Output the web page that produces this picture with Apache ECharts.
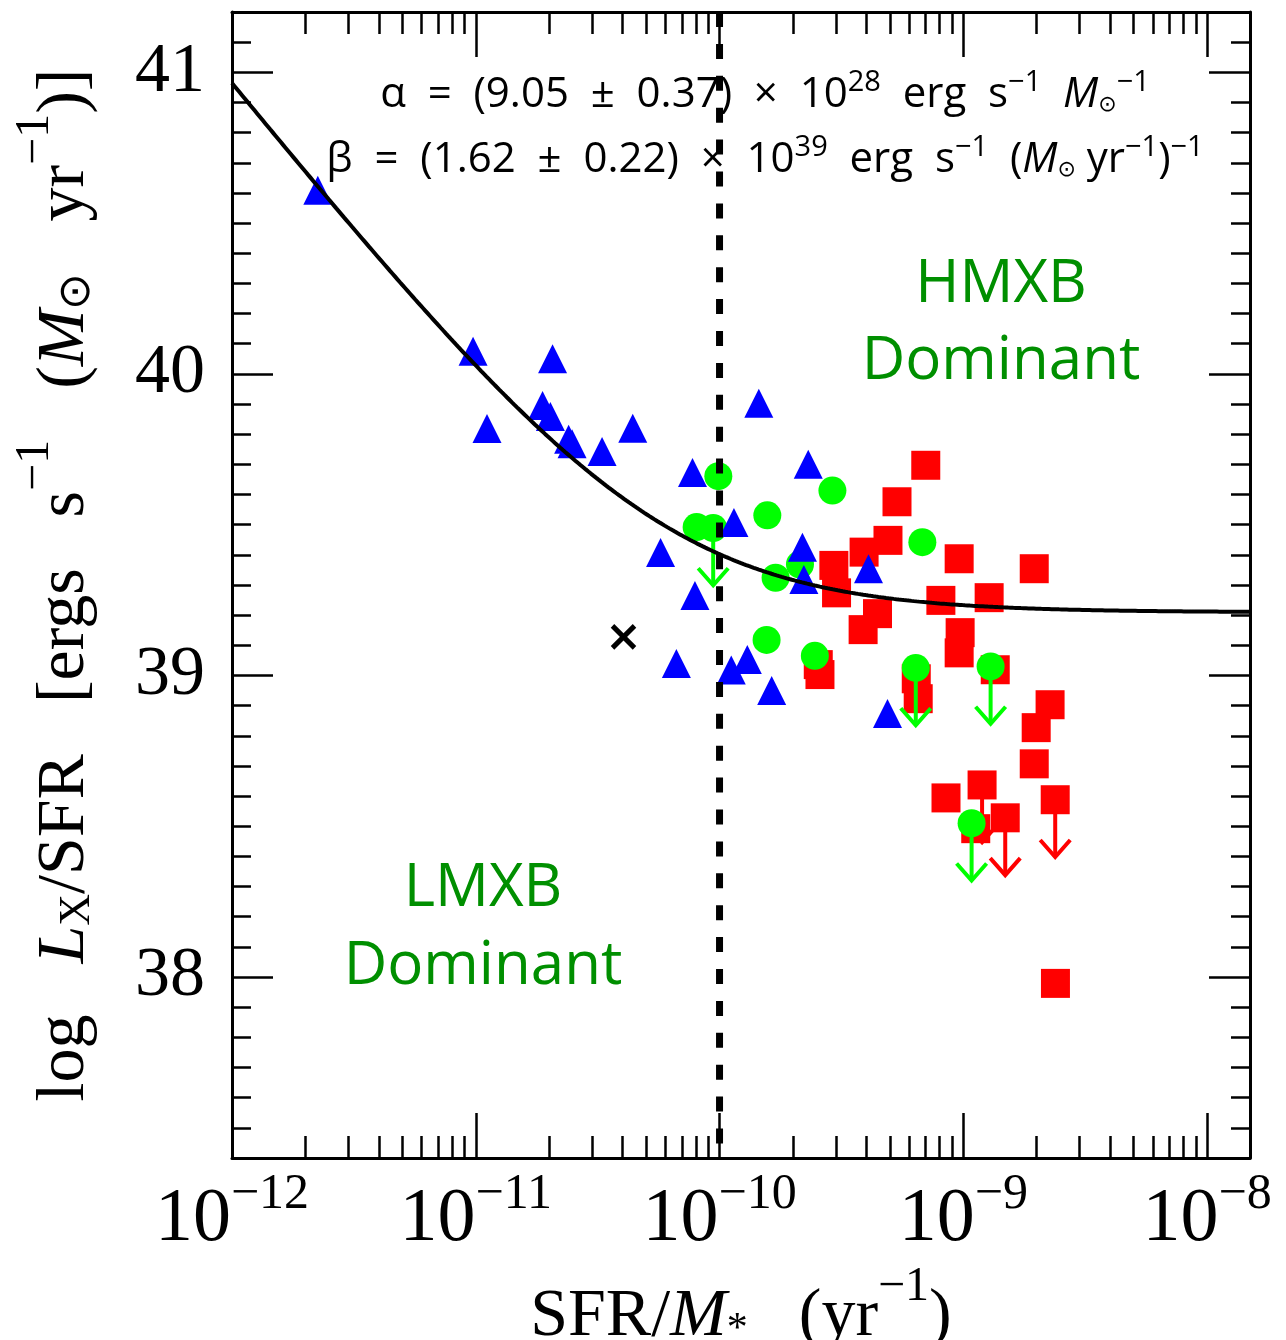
<!DOCTYPE html>
<html>
<head>
<meta charset="utf-8">
<title>Lx/SFR versus specific SFR</title>
<script src="https://cdn.jsdelivr.net/npm/echarts@6.0.0/dist/echarts.min.js"></script>
<style>
  html, body { margin: 0; padding: 0; background: #ffffff; }
  #chart { width: 1286px; height: 1340px; }
</style>
</head>
<body>
<div id="chart"></div>
<script>
// Best-fit scaling: Lx = ALPHA * M* + BETA * SFR
const ALPHA = 9.05e28;   // erg s^-1 Msun^-1
const BETA = 1.62e39;    // erg s^-1 (Msun yr^-1)^-1

// Axis ranges (x is log10 of SFR/M*)
const X_MIN = -12;
const X_MAX = Math.log10(1.5e-8);
const Y_MIN = 37.4;
const Y_MAX = 41.2;
const SSFR_DIVIDE = -10;

const xTickValues = [-12, -11, -10, -9, -8];
const yTickValues = [38, 39, 40, 41];

// Blue triangles: log sSFR, log Lx/SFR
const triLogSSFR = [-11.648, -11.011, -10.685, -10.954, -10.726, -10.694, -10.619, -10.605,
  -10.482, -10.356, -9.839, -10.111, -9.636, -9.941, -10.242, -9.660, -9.654, -9.389,
  -10.101, -10.177, -9.952, -9.886, -9.786, -9.311];
const triLogLx = [40.609, 40.075, 40.050, 39.819, 39.895, 39.859, 39.783, 39.768,
  39.743, 39.820, 39.903, 39.673, 39.700, 39.507, 39.408, 39.425, 39.318, 39.354,
  39.265, 39.040, 39.018, 39.053, 38.950, 38.874];

// Green circles (1 = upper limit)
const circLogSSFR = [-10.005, -9.537, -9.804, -10.094, -10.026, -9.670, -9.770, -9.168,
  -9.807, -9.609, -9.195, -8.888, -8.966];
const circLogLx = [39.661, 39.613, 39.531, 39.492, 39.489, 39.368, 39.324, 39.442,
  39.118, 39.065, 39.025, 39.030, 38.510];
const circUpper = [0, 0, 0, 0, 1, 0, 0, 0, 0, 0, 1, 1, 1];

// Red squares (1 = upper limit)
const sqLogSSFR = [-9.531, -9.407, -9.309, -9.154, -9.272, -9.017, -9.520, -9.352,
  -9.411, -9.092, -8.894, -9.013, -9.017, -9.595, -9.588, -9.193, -9.185, -8.869,
  -8.709, -8.644, -8.701, -8.709, -8.923, -9.071, -8.828, -8.949, -8.623, -8.622];
const sqLogLx = [39.365, 39.409, 39.448, 39.697, 39.576, 39.387, 39.274, 39.205,
  39.152, 39.249, 39.258, 39.142, 39.075, 39.036, 39.003, 38.989, 38.923, 39.019,
  39.354, 38.903, 38.827, 38.707, 38.637, 38.594, 38.528, 38.492, 38.588, 37.979];
const sqUpper = [0, 0, 0, 0, 0, 0, 0, 0, 0, 0, 0, 0, 0, 0, 0, 0, 0, 0,
  0, 0, 0, 0, 1, 0, 1, 0, 1, 0];

// Black cross
const crossLogSSFR = [-10.394];
const crossLogLx = [39.128];

// ---------------------------------------------------------------
const ARROW_DEX = 0.19;           // upper-limit arrow length in dex
const SERIF = '"Liberation Serif", "Times New Roman", serif';
const SANS = '"Open Sans", "Noto Sans", sans-serif';
const GREEN_TEXT = '#008f00';

const pairs = (xs, ys) => xs.map((x, i) => [x, ys[i]]);
const limits = (xs, ys, flags) => pairs(xs, ys).filter((_, i) => flags[i]);

// minor ticks
const xMinorTicks = [];
for (let d = -12; d <= -8; d++) {
  for (let k = 2; k <= 9; k++) {
    const v = d + Math.log10(k);
    if (v < X_MAX) xMinorTicks.push(v);
  }
}
const yMinorTicks = [];
for (let k = Math.round(Y_MIN * 10) + 1; k < Math.round(Y_MAX * 10); k++) {
  if (k % 10 !== 0) yMinorTicks.push(k / 10);
}

// model curve from the fit parameters
const fitCurve = [];
for (let i = 0; i <= 400; i++) {
  const lx = X_MIN + (X_MAX - X_MIN) * i / 400;
  fitCurve.push([lx, Math.log10(ALPHA / Math.pow(10, lx) + BETA)]);
}

function arrowRenderer(color) {
  return function (params, api) {
    const x = api.value(0), y = api.value(1);
    const p0 = api.coord([x, y]);
    const p1 = api.coord([x, y - ARROW_DEX]);
    return {
      type: 'group',
      children: [
        { type: 'line', shape: { x1: p0[0], y1: p0[1], x2: p1[0], y2: p1[1] },
          style: { stroke: color, lineWidth: 4, fill: null } },
        { type: 'polyline',
          shape: { points: [[p1[0] - 15, p1[1] - 17], [p1[0], p1[1]], [p1[0] + 15, p1[1] - 17]] },
          style: { stroke: color, lineWidth: 4, fill: null } }
      ]
    };
  };
}

function crossRenderer(params, api) {
  const p = api.coord([api.value(0), api.value(1)]);
  const h = 11;
  return {
    type: 'group',
    children: [
      { type: 'line', shape: { x1: p[0] - h, y1: p[1] - h, x2: p[0] + h, y2: p[1] + h },
        style: { stroke: '#000', lineWidth: 5 } },
      { type: 'line', shape: { x1: p[0] - h, y1: p[1] + h, x2: p[0] + h, y2: p[1] - h },
        style: { stroke: '#000', lineWidth: 5 } }
    ]
  };
}

const tickLine = { color: '#000', width: 2.5 };
const frameLine = { show: true, onZero: false, lineStyle: { color: '#000', width: 3 } };

function xAxisDef(position, values, len, main) {
  return {
    type: 'value', min: X_MIN, max: X_MAX, position: position,
    axisLine: main ? frameLine : { show: false },
    axisTick: { show: true, inside: true, length: len, customValues: values, lineStyle: tickLine },
    axisLabel: { show: false },
    splitLine: { show: false }
  };
}
function yAxisDef(position, values, len, main) {
  return {
    type: 'value', min: Y_MIN, max: Y_MAX, position: position,
    axisLine: main ? frameLine : { show: false },
    axisTick: { show: true, inside: true, length: len, customValues: values, lineStyle: tickLine },
    axisLabel: { show: false },
    splitLine: { show: false }
  };
}

function serifRich(size, subSize, supSize, lh) {
  return {
    n: { fontFamily: SERIF, fontSize: size, lineHeight: lh, verticalAlign: 'bottom', color: '#000' },
    i: { fontFamily: SERIF, fontStyle: 'italic', fontSize: size, lineHeight: lh, verticalAlign: 'bottom', color: '#000' },
    sub: { fontFamily: SERIF, fontSize: subSize, lineHeight: subSize, verticalAlign: 'bottom', color: '#000' },
    sup: { fontFamily: SERIF, fontSize: supSize, lineHeight: supSize, verticalAlign: 'top', color: '#000' }
  };
}

const xBottom = xAxisDef('bottom', xTickValues, 45, true);
xBottom.axisLabel = {
  show: true,
  customValues: xTickValues,
  margin: 12,
  formatter: v => '{b|10}{s|\u2212' + Math.abs(v) + '}',
  rich: {
    b: { fontFamily: SERIF, fontSize: 76, lineHeight: 88, verticalAlign: 'bottom', color: '#000' },
    s: { fontFamily: SERIF, fontSize: 50, lineHeight: 50, verticalAlign: 'top', color: '#000' }
  }
};
xBottom.name = '{n|SFR/}{i|M}{sub|*}{n|   (yr}{sup|\u22121}{n|)}';
xBottom.nameLocation = 'middle';
xBottom.nameGap = 88;
xBottom.nameTextStyle = { color: '#000', fontFamily: SERIF, fontSize: 68, rich: serifRich(68, 42, 48, 88) };

const yLeft = yAxisDef('left', yTickValues, 41, true);
yLeft.axisLabel = {
  show: true, customValues: yTickValues, margin: 27,
  fontFamily: SERIF, fontSize: 70, color: '#000'
};
yLeft.name = '{n|log   }{i|L}{sub|X}{n|/SFR   [ergs   s}{sup|\u22121}{n|   (}{i|M}{sub|\u2299}{n|   yr}{sup|\u22121}{n|)]}';
yLeft.nameLocation = 'middle';
yLeft.nameRotate = 90;
yLeft.nameGap = 133;
yLeft.nameTextStyle = { color: '#000', fontFamily: SERIF, fontSize: 68, rich: serifRich(68, 44, 48, 88) };

const annoRich = {
  n: { fontFamily: SANS, fontSize: 42, lineHeight: 48, verticalAlign: 'bottom', fill: '#000' },
  i: { fontFamily: SANS, fontStyle: 'italic', fontSize: 42, lineHeight: 48, verticalAlign: 'bottom', fill: '#000' },
  sup: { fontFamily: SANS, fontSize: 29, lineHeight: 29, verticalAlign: 'top', fill: '#000' },
  sub: { fontFamily: '"DejaVu Sans", sans-serif', fontSize: 22, lineHeight: 22, verticalAlign: 'bottom', fill: '#000' }
};

const chart = echarts.init(document.getElementById('chart'), null, { renderer: 'canvas' });

chart.setOption({
  animation: false,
  backgroundColor: '#ffffff',
  grid: { left: 232, right: 36, top: 12, bottom: 182, containLabel: false, outerBoundsMode: 'none' },
  xAxis: [
    xBottom,
    xAxisDef('bottom', xMinorTicks, 22, false),
    xAxisDef('top', xTickValues, 45, true),
    xAxisDef('top', xMinorTicks, 22, false)
  ],
  yAxis: [
    yLeft,
    yAxisDef('left', yMinorTicks, 19, false),
    yAxisDef('right', yTickValues, 41, true),
    yAxisDef('right', yMinorTicks, 19, false)
  ],
  graphic: [
    { type: 'text', x: 765, y: 92, silent: true, style: {
        text: '{n|\u03b1  =  (9.05  \u00b1  0.37)  \u00d7  10}{sup|28}{n|  erg  s}{sup|\u22121}{n|  }{i|M}{sub|\u2299}{sup|\u22121}',
        rich: annoRich, textAlign: 'center', textVerticalAlign: 'middle' } },
    { type: 'text', x: 765, y: 157, silent: true, style: {
        text: '{n|\u03b2  =  (1.62  \u00b1  0.22)  \u00d7  10}{sup|39}{n|  erg  s}{sup|\u22121}{n|  (}{i|M}{sub|\u2299}{n| yr}{sup|\u22121}{n|)}{sup|\u22121}',
        rich: annoRich, textAlign: 'center', textVerticalAlign: 'middle' } },
    { type: 'text', x: 1001, y: 285, silent: true, style: {
        text: 'HMXB', fontFamily: SANS, fontSize: 60, fill: GREEN_TEXT,
        textAlign: 'center', textVerticalAlign: 'middle' } },
    { type: 'text', x: 1001, y: 362, silent: true, style: {
        text: 'Dominant', fontFamily: SANS, fontSize: 60, fill: GREEN_TEXT,
        textAlign: 'center', textVerticalAlign: 'middle' } },
    { type: 'text', x: 483, y: 889, silent: true, style: {
        text: 'LMXB', fontFamily: SANS, fontSize: 60, fill: GREEN_TEXT,
        textAlign: 'center', textVerticalAlign: 'middle' } },
    { type: 'text', x: 483, y: 967, silent: true, style: {
        text: 'Dominant', fontFamily: SANS, fontSize: 60, fill: GREEN_TEXT,
        textAlign: 'center', textVerticalAlign: 'middle' } }
  ],
  series: [
    { type: 'custom', name: 'square limits', z: 2, silent: true,
      renderItem: arrowRenderer('#ff0000'),
      data: limits(sqLogSSFR, sqLogLx, sqUpper) },
    { type: 'scatter', name: 'squares', z: 3, silent: true,
      symbol: 'rect', symbolSize: 29,
      itemStyle: { color: '#ff0000', opacity: 1 },
      data: pairs(sqLogSSFR, sqLogLx) },
    { type: 'custom', name: 'circle limits', z: 4, silent: true,
      renderItem: arrowRenderer('#00ff00'),
      data: limits(circLogSSFR, circLogLx, circUpper) },
    { type: 'scatter', name: 'circles', z: 4, silent: true,
      symbol: 'circle', symbolSize: 28,
      itemStyle: { color: '#00ff00', opacity: 1 },
      data: pairs(circLogSSFR, circLogLx) },
    { type: 'scatter', name: 'triangles', z: 5, silent: true,
      symbol: 'triangle', symbolSize: [29, 29],
      itemStyle: { color: '#0000ff', opacity: 1 },
      data: pairs(triLogSSFR, triLogLx) },
    { type: 'custom', name: 'cross', z: 6, silent: true,
      renderItem: crossRenderer,
      data: pairs(crossLogSSFR, crossLogLx) },
    { type: 'line', name: 'fit', z: 7, silent: true,
      showSymbol: false, symbol: 'none', smooth: false,
      lineStyle: { color: '#000', width: 4 },
      data: fitCurve },
    { type: 'line', name: 'divide', z: 8, silent: true,
      showSymbol: false, symbol: 'none',
      lineStyle: { color: '#000', width: 7, type: [15, 16.9], cap: 'butt' },
      data: [[SSFR_DIVIDE, Y_MAX], [SSFR_DIVIDE, Y_MIN]] }
  ]
});
</script>
</body>
</html>
